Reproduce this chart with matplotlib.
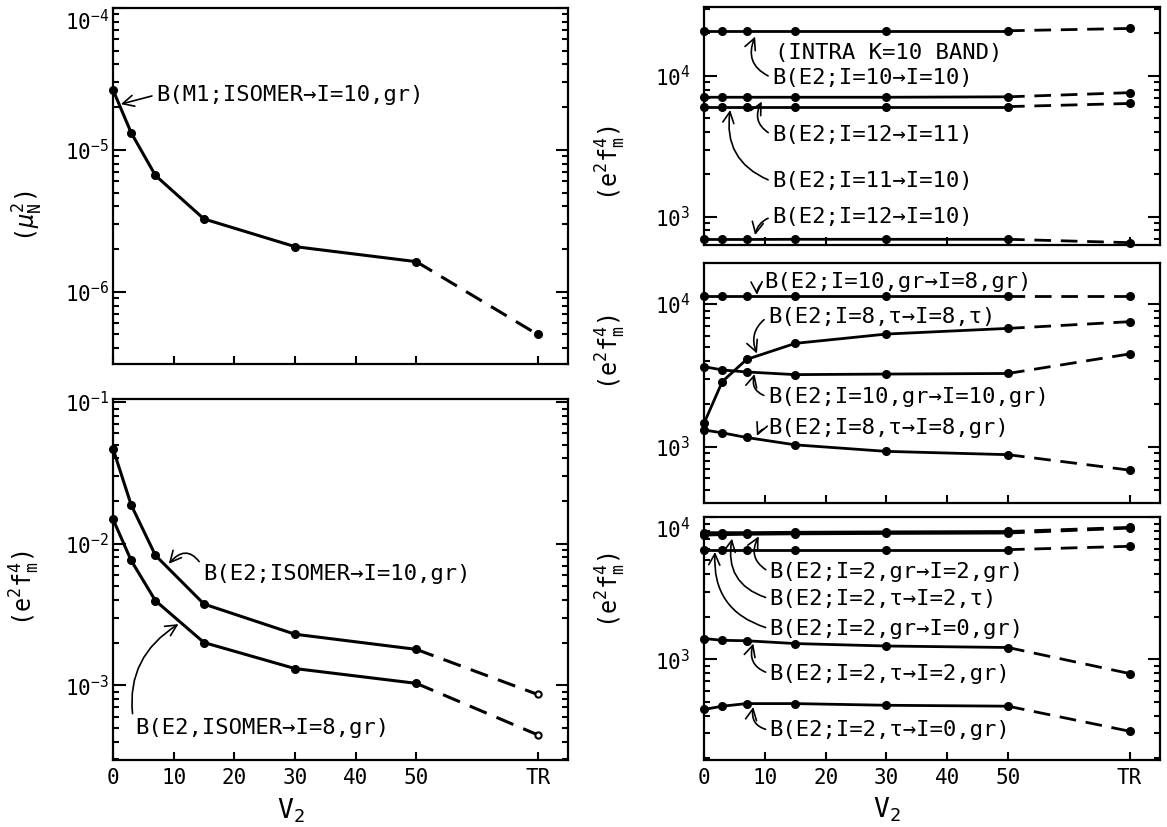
import matplotlib
matplotlib.use('Agg')
import matplotlib.pyplot as plt
import matplotlib.transforms as mtrans
import numpy as np
from matplotlib.ticker import LogLocator, NullFormatter

plt.rcParams['font.family'] = ['DejaVu Sans Mono', 'DejaVu Sans']
plt.rcParams['mathtext.fontset'] = 'custom'
plt.rcParams['mathtext.rm'] = 'DejaVu Sans Mono'
plt.rcParams['mathtext.it'] = 'DejaVu Sans Mono:italic'
plt.rcParams['mathtext.bf'] = 'DejaVu Sans Mono:bold'

# ---------------- data ----------------
v2 = [0, 3, 7, 15, 30, 50, 70]          # 70 = "TR" position
x_ticks = [0, 10, 20, 30, 40, 50, 70]
x_labels = ['0', '10', '20', '30', '40', '50', 'TR']

# top-left: B(M1; ISOMER -> I=10,gr)  (mu_N^2)
m1_isomer_10gr = [2.65e-5, 1.32e-5, 6.6e-6, 3.26e-6, 2.08e-6, 1.63e-6, 5.0e-7]

# bottom-left (e^2 fm^4)
e2_isomer_10gr = [0.0469, 0.01875, 8.26e-3, 3.74e-3, 2.29e-3, 1.79e-3, 8.6e-4]
e2_isomer_8gr = [0.0149, 7.6e-3, 3.95e-3, 2.0e-3, 1.31e-3, 1.03e-3, 4.46e-4]

# top-right: intra K=10 band
e2_10_10 = [2.09e4, 2.09e4, 2.09e4, 2.09e4, 2.09e4, 2.09e4, 2.17e4]
e2_12_11 = [7.05e3, 7.05e3, 7.05e3, 7.05e3, 7.05e3, 7.1e3, 7.6e3]
e2_11_10 = [6.05e3, 6.05e3, 6.05e3, 6.05e3, 6.05e3, 6.05e3, 6.37e3]
e2_12_10 = [690, 690, 690, 692, 692, 692, 655]

# middle-right
e2_10gr_8gr = [1.14e4, 1.14e4, 1.14e4, 1.14e4, 1.14e4, 1.14e4, 1.14e4]
e2_8t_8t = [1.46e3, 2.86e3, 4.09e3, 5.30e3, 6.16e3, 6.75e3, 7.52e3]
e2_10gr_10gr = [3.64e3, 3.45e3, 3.34e3, 3.20e3, 3.23e3, 3.26e3, 4.47e3]
e2_8t_8gr = [1.31e3, 1.25e3, 1.16e3, 1.03e3, 927, 879, 685]

# bottom-right
e2_2gr_2gr = [7.8e3, 7.8e3, 7.8e3, 7.85e3, 7.9e3, 7.95e3, 8.5e3]
e2_2t_2t = [7.5e3, 7.55e3, 7.6e3, 7.65e3, 7.7e3, 7.75e3, 8.4e3]
e2_2gr_0gr = [5.92e3, 5.92e3, 5.92e3, 5.92e3, 5.92e3, 5.92e3, 6.25e3]
e2_2t_2gr = [1.40e3, 1.36e3, 1.35e3, 1.29e3, 1.24e3, 1.21e3, 793]
e2_2t_0gr = [443, 467, 487, 487, 474, 467, 311]

# ---------------- figure ----------------
fig = plt.figure(figsize=(11.67, 8.27), dpi=100)
ax_tl = fig.add_axes([0.0968, 0.5599, 0.3899, 0.4305])
ax_bl = fig.add_axes([0.0968, 0.0810, 0.3899, 0.4365])
ax_tr = fig.add_axes([0.6033, 0.7037, 0.3907, 0.2878])
ax_mr = fig.add_axes([0.6033, 0.3918, 0.3907, 0.2902])
ax_br = fig.add_axes([0.6033, 0.0810, 0.3907, 0.2938])

ANN_FS = 16


def setup(ax, ylim, show_x, label_pad):
    ax.set_yscale('log')
    ax.set_xlim(0, 75)
    ax.set_ylim(*ylim)
    ax.set_xticks(x_ticks)
    ax.set_xticklabels(x_labels if show_x else [])
    ax.yaxis.set_major_locator(LogLocator(base=10, numticks=20))
    ax.yaxis.set_minor_locator(LogLocator(base=10, subs=np.arange(2, 10), numticks=100))
    ax.yaxis.set_minor_formatter(NullFormatter())
    ax.tick_params(axis='y', which='both', direction='in', left=True, right=True, width=1.5)
    ax.tick_params(axis='y', which='major', length=9, labelsize=15, pad=label_pad)
    ax.tick_params(axis='y', which='minor', length=4.5)
    ax.tick_params(axis='x', which='major', direction='in', length=6, width=1.5,
                   labelsize=15, pad=6, top=False)
    ax.tick_params(axis='x', which='minor', bottom=False, top=False)
    for s in ax.spines.values():
        s.set_linewidth(1.6)


def draw(ax, vals, open_last=False, lw=2.0, ms=5.5):
    ax.plot(v2[:6], vals[:6], color='k', lw=lw, marker='o', ms=ms,
            clip_on=False, zorder=3)
    ax.plot(v2[5:], vals[5:], color='k', lw=lw, ls=(0, (6, 3.5)),
            clip_on=False, zorder=3)
    if open_last:
        ax.plot(v2[6:], vals[6:], 'o', color='k', mfc='white', mew=1.5, ms=4.5,
                clip_on=False, zorder=4)
    else:
        ax.plot(v2[6:], vals[6:], 'o', color='k', ms=ms, clip_on=False, zorder=4)


def note(ax, text, xytext, xy=None, rad=0.0, relpos=(0, 0.5), fs=ANN_FS):
    if xy is None:
        ax.text(xytext[0], xytext[1], text, ha='left', va='center', fontsize=fs)
        return
    ax.annotate(text, xy=xy, xytext=xytext, textcoords='data', ha='left',
                va='center', fontsize=fs,
                arrowprops=dict(arrowstyle='->,head_length=0.5,head_width=0.25',
                                lw=1.2, color='k', shrinkA=1, shrinkB=0,
                                relpos=relpos,
                                connectionstyle='arc3,rad=%g' % rad))


ARROW = '\u2192'
TAU = '\u03c4'
ELABEL = r'$(\mathrm{e}^{2}\mathrm{f}_{\mathrm{m}}^{4})$'

# top-left
setup(ax_tl, (3.1e-7, 1.0e-4), False, 3)
draw(ax_tl, m1_isomer_10gr, lw=2.2)
note(ax_tl, 'B(M1;ISOMER' + ARROW + 'I=10,gr)', (7.1, 2.44e-5), (1.3, 2.1e-5), rad=0.0)
ax_tl.set_ylabel(r'$(\mu_{\mathrm{N}}^{2})$', fontsize=17)
ax_tl.yaxis.set_label_coords(-0.149, 0.416)

# bottom-left
setup(ax_bl, (2.96e-4, 0.105), True, 3)
draw(ax_bl, e2_isomer_10gr, open_last=True, lw=2.2)
draw(ax_bl, e2_isomer_8gr, open_last=True, lw=2.2)
note(ax_bl, 'B(E2;ISOMER' + ARROW + 'I=10,gr)', (14.8, 6.1e-3), (9.2, 7.2e-3),
     rad=0.7, relpos=(0, 0.85))
note(ax_bl, 'B(E2,ISOMER' + ARROW + 'I=8,gr)', (3.6, 5.0e-4), (10.8, 2.7e-3),
     rad=-0.35, relpos=(0, 0.5))
ax_bl.set_ylabel(ELABEL, fontsize=17)
ax_bl.yaxis.set_label_coords(-0.156, 0.476)
ax_bl.set_xlabel(r'V$_{2}$', fontsize=19)
ax_bl.xaxis.set_label_coords(0.39, -0.10)

# top-right
setup(ax_tr, (630, 3.08e4), False, 10)
for s in (e2_10_10, e2_12_11, e2_11_10, e2_12_10):
    draw(ax_tr, s)
note(ax_tr, '(INTRA K=10 BAND)', (11.7, 1.45e4))
note(ax_tr, 'B(E2;I=10' + ARROW + 'I=10)', (11.2, 9.7e3), (8.4, 1.9e4), rad=-0.5)
note(ax_tr, 'B(E2;I=12' + ARROW + 'I=11)', (11.2, 3.81e3), (9.5, 6.57e3), rad=-0.5)
note(ax_tr, 'B(E2;I=11' + ARROW + 'I=10)', (11.2, 1.78e3), (4.3, 5.73e3), rad=-0.4)
note(ax_tr, 'B(E2;I=12' + ARROW + 'I=10)', (11.2, 1.0e3), (8.4, 741), rad=0.3)
ax_tr.set_ylabel(ELABEL, fontsize=17)
ax_tr.yaxis.set_label_coords(-0.167, 0.345)

# middle-right
setup(ax_mr, (403, 1.94e4), False, 10)
for s in (e2_10gr_8gr, e2_8t_8t, e2_10gr_10gr, e2_8t_8gr):
    draw(ax_mr, s)
note(ax_mr, 'B(E2;I=10,gr' + ARROW + 'I=8,gr)', (9.9, 1.43e4), (8.7, 1.16e4), rad=0.3)
note(ax_mr, 'B(E2;I=8,' + TAU + ARROW + 'I=8,' + TAU + ')', (10.5, 8.15e3), (8.7, 4.5e3), rad=0.4)
note(ax_mr, 'B(E2;I=10,gr' + ARROW + 'I=10,gr)', (10.5, 2.24e3), (8.3, 3.23e3), rad=-0.5)
note(ax_mr, 'B(E2;I=8,' + TAU + ARROW + 'I=8,gr)', (10.5, 1.35e3), (8.7, 1.19e3), rad=0.3)
ax_mr.set_ylabel(ELABEL, fontsize=17)
ax_mr.yaxis.set_label_coords(-0.167, 0.63)

# bottom-right
setup(ax_br, (195, 1.005e4), True, 10)
for s in (e2_2gr_2gr, e2_2t_2t, e2_2gr_0gr, e2_2t_2gr, e2_2t_0gr):
    draw(ax_br, s)
note(ax_br, 'B(E2;I=2,gr' + ARROW + 'I=2,gr)', (10.8, 4.12e3), (9.0, 7.35e3), rad=-0.5)
note(ax_br, 'B(E2;I=2,' + TAU + ARROW + 'I=2,' + TAU + ')', (10.8, 2.67e3), (4.6, 7.08e3), rad=-0.45)
note(ax_br, 'B(E2;I=2,gr' + ARROW + 'I=0,gr)', (10.8, 1.64e3), (1.8, 5.7e3), rad=-0.4)
note(ax_br, 'B(E2;I=2,' + TAU + ARROW + 'I=2,gr)', (10.8, 793), (8.1, 1.29e3), rad=-0.5)
note(ax_br, 'B(E2;I=2,' + TAU + ARROW + 'I=0,gr)', (10.8, 316), (8.1, 461), rad=-0.5)
ax_br.set_ylabel(ELABEL, fontsize=17)
ax_br.yaxis.set_label_coords(-0.167, 0.70)
ax_br.set_xlabel(r'V$_{2}$', fontsize=19)
ax_br.xaxis.set_label_coords(0.40, -0.148)


def shift_top_label(ax, loc, dy_px):
    fig.canvas.draw()
    off = mtrans.ScaledTranslation(0, -dy_px / fig.dpi, fig.dpi_scale_trans)
    for t in ax.yaxis.get_major_ticks():
        if np.isclose(t.get_loc(), loc, rtol=1e-6):
            t.label1.set_transform(t.label1.get_transform() + off)


shift_top_label(ax_tl, 1.0e-4, 12)
shift_top_label(ax_br, 1.0e4, 10)

fig.savefig('out.png', dpi=100)
